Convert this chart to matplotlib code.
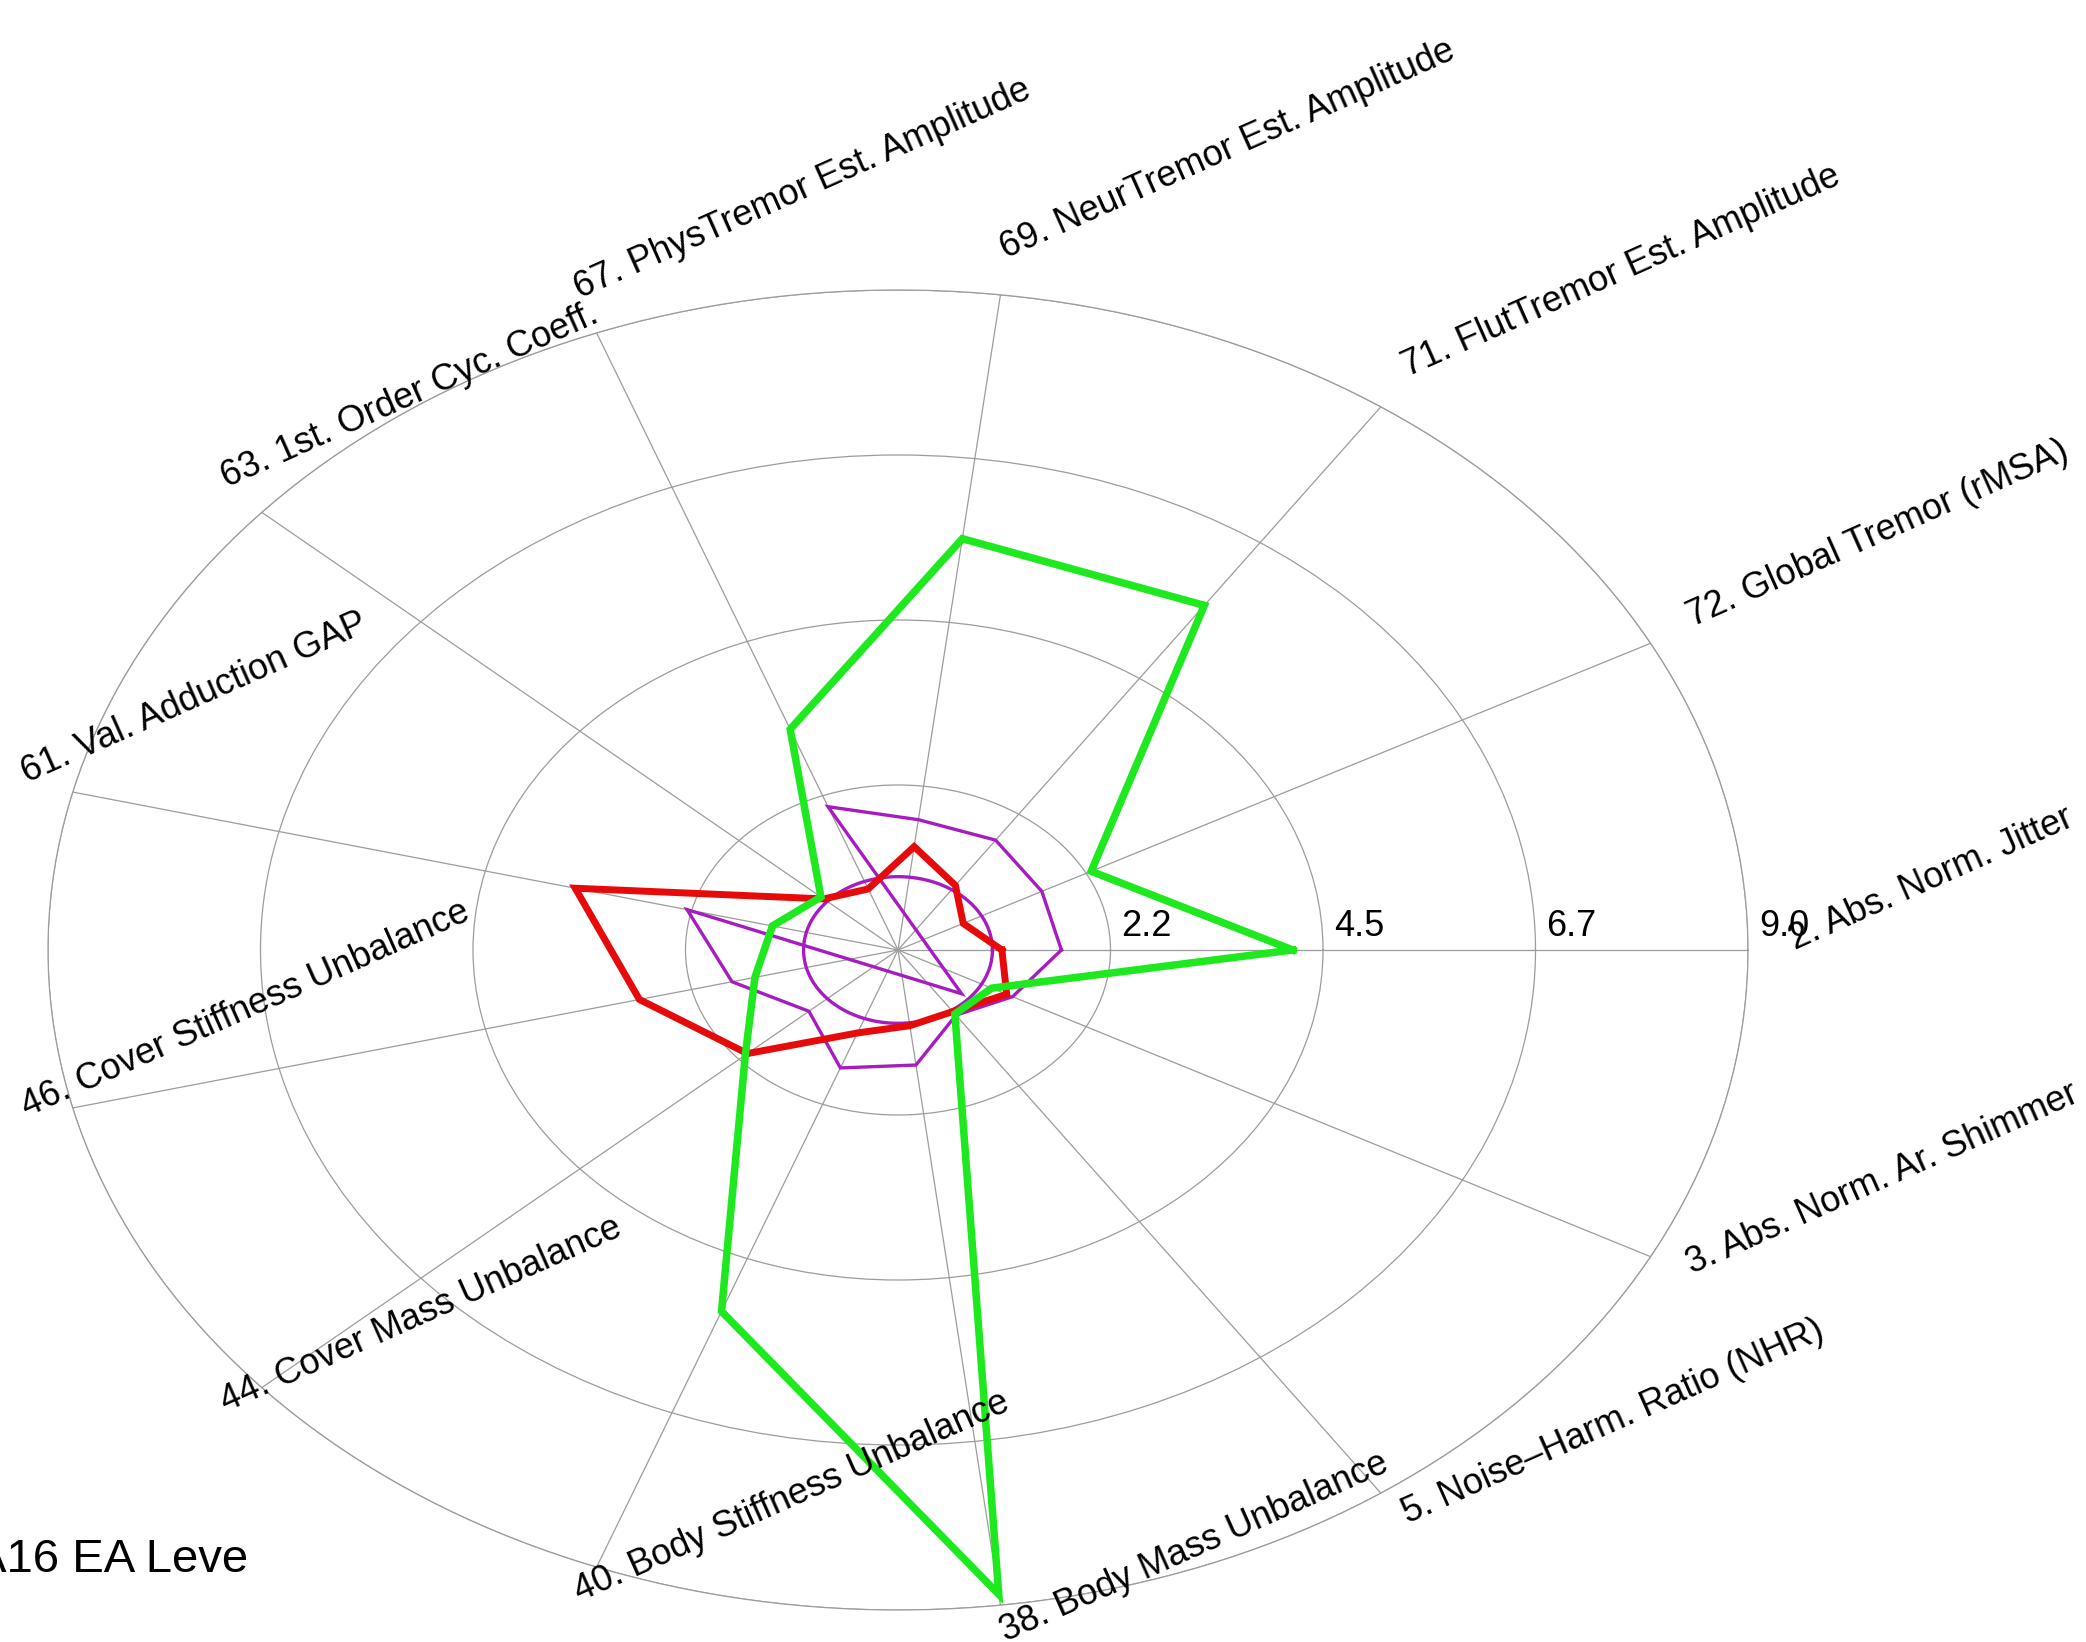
import numpy as np
import matplotlib.pyplot as plt

plt.rcParams['font.family'] = ['Liberation Sans', 'DejaVu Sans']

# spokes, counter-clockwise from the right-hand side
features = [
    '2. Abs. Norm. Jitter',
    '72. Global Tremor (rMSA)',
    '71. FlutTremor Est. Amplitude',
    '69. NeurTremor Est. Amplitude',
    '67. PhysTremor Est. Amplitude',
    '63. 1st. Order Cyc. Coeff.',
    '61. Val. Adduction GAP',
    '46. Cover Stiffness Unbalance',
    '44. Cover Mass Unbalance',
    '40. Body Stiffness Unbalance',
    '38. Body Mass Unbalance',
    '5. Noise\u2013Harm. Ratio (NHR)',
    '3. Abs. Norm. Ar. Shimmer',
]

green_vals = [4.18, 2.31, 5.71, 5.65, 3.22, 1.09, 1.37, 1.56, 2.16, 5.27, 8.85, 1.06, 1.12]
red_vals = [1.10, 0.78, 1.07, 1.42, 0.89, 1.05, 3.52, 2.82, 2.13, 1.21, 1.04, 1.02, 1.30]
magenta_vals = [1.73, 1.72, 1.82, 1.79, 2.09, -0.90, 2.30, 1.81, 1.26, 1.72, 1.58, 1.08, 1.37]
reference_level = 1.0

ring_values = [2.25, 4.5, 6.75, 9.0]
ring_labels = ['2.2', '4.5', '6.7', '9.0']

n = len(features)
theta = np.arange(n) * 2 * np.pi / n


def closed(vals):
    r = np.array(list(vals) + [vals[0]], dtype=float)
    t = np.append(theta, theta[0])
    # polar axes drop negative radii, so send them through the origin
    t = np.where(r < 0, t + np.pi, t)
    return t, np.abs(r)


fig = plt.figure(figsize=(20.86, 16.42), dpi=100)
ax = fig.add_axes([0.02301, 0.01949, 0.81496, 0.80390], projection='polar')
ax.set_aspect('auto')
ax.set_ylim(0, 9)

grid_color = '#9c9c9c'
ax.set_xticks(theta)
ax.set_xticklabels([])
ax.set_yticks(ring_values)
ax.set_yticklabels([])
ax.tick_params(length=0)
ax.grid(True, color=grid_color, linewidth=0.9)
ax.spines['polar'].set_color(grid_color)
ax.spines['polar'].set_linewidth(0.9)

# reference circle
ring_t = np.linspace(0, 2 * np.pi, 361)
ax.plot(ring_t, np.full_like(ring_t, reference_level), color='#a61cc0', lw=2.4)

t, r = closed(magenta_vals)
ax.plot(t, r, color='#a61cc0', lw=2.4, solid_joinstyle='miter')
t, r = closed(red_vals)
ax.plot(t, r, color='#e60a0a', lw=5.0, solid_joinstyle='miter')
t, r = closed(green_vals)
ax.plot(t, r, color='#1ee81e', lw=5.4, solid_joinstyle='miter')

for rv, lab in zip(ring_values, ring_labels):
    ax.annotate(lab, xy=(0, rv), xytext=(8, 10), textcoords='offset points',
                ha='left', va='baseline', fontsize=26)

for ang, lab in zip(theta, features):
    ax.text(ang, 9.5, lab, rotation=24, rotation_mode='anchor',
            ha='left', va='baseline', fontsize=26)

fig.text(-0.012, 0.0428, 'A16 EA Leve', fontsize=34, ha='left', va='baseline')

fig.savefig('out.png', dpi=100, facecolor='white')
